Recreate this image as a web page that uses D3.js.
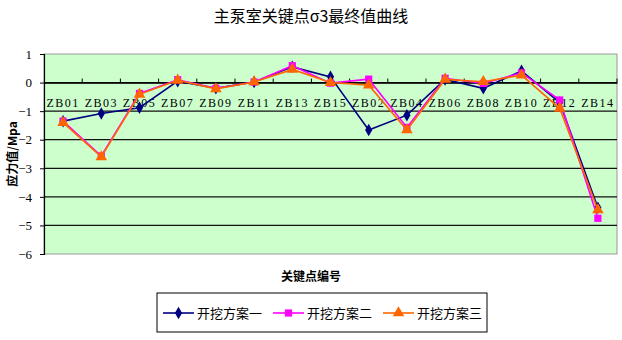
<!DOCTYPE html>
<html>
<head>
<meta charset="utf-8">
<script src="https://cdn.jsdelivr.net/npm/d3@7"></script>
<style>
  body { margin: 0; background: #fff; }
  svg { display: block; }
  .tick text { font-family: "Liberation Serif", serif; }
</style>
</head>
<body>
<svg id="chart" width="622" height="340"></svg>
<script>
const categories = ["ZB01", "ZB03", "ZB05", "ZB07", "ZB09", "ZB11", "ZB13", "ZB15",
    "ZB02", "ZB04", "ZB06", "ZB08", "ZB10", "ZB12", "ZB14"];
const plan1 = [-1.35, -1.08, -0.88, 0.05, -0.2, 0.02, 0.55, 0.2, -1.66, -1.14, 0.11, -0.2, 0.41, -0.7, -4.38];
const plan2 = [-1.35, -2.57, -0.38, 0.1, -0.2, 0.02, 0.59, -0.02, 0.12, -1.57, 0.15, -0.03, 0.34, -0.61, -4.75];
const plan3 = [-1.4, -2.6, -0.41, 0.08, -0.22, 0.02, 0.46, 0.0, -0.09, -1.66, 0.11, 0.03, 0.26, -0.9, -4.46];
const seriesNames = ["开挖方案一", "开挖方案二", "开挖方案三"];
const yTicks = [1, 0, -1, -2, -3, -4, -5, -6];

const svg = d3.select("svg#chart");
const margin = { top: 54, right: 5, bottom: 86, left: 44 };
const chartWidth = 622 - margin.left - margin.right;
const chartHeight = 340 - margin.top - margin.bottom;

const series = [
    { name: seriesNames[0], values: plan1, color: "#000080", shape: d3.symbolDiamond, size: 45 },
    { name: seriesNames[1], values: plan2, color: "#FF00FF", shape: d3.symbolSquare, size: 52 },
    { name: seriesNames[2], values: plan3, color: "#FF6600", shape: d3.symbolTriangle, size: 58 }
];

const xScale = d3.scaleBand().domain(categories).range([0, chartWidth]);
const yScale = d3.scaleLinear().domain([-6, 1]).range([chartHeight, 0]);

// title
svg.append("text")
    .attr("x", 311).attr("y", 22)
    .attr("text-anchor", "middle")
    .attr("font-family", "Noto Sans CJK SC")
    .attr("font-size", 16)
    .text("主泵室关键点σ3最终值曲线");

const chartArea = svg.append("g")
    .attr("transform", `translate(${margin.left},${margin.top})`);

chartArea.append("rect")
    .attr("width", chartWidth).attr("height", chartHeight)
    .attr("fill", "#CCFFCC")
    .attr("stroke", "#999").attr("stroke-width", 1);

// gridlines
chartArea.selectAll("line.grid")
    .data(yTicks.filter(d => d < 1 && d > -6))
    .join("line")
    .attr("class", "grid")
    .attr("x1", 0).attr("x2", chartWidth)
    .attr("y1", d => yScale(d)).attr("y2", d => yScale(d))
    .attr("stroke", "#111").attr("stroke-width", 1.2);

// y axis
let leftAxis = d3.axisLeft(yScale).tickValues(yTicks).tickSize(4).tickPadding(8)
    .tickFormat(d => d < 0 ? "\u2212" + Math.abs(d) : d);
let leftAxisG = chartArea.append("g").call(leftAxis);
leftAxisG.select(".domain").attr("stroke", "#000").attr("stroke-width", 1.2);
leftAxisG.selectAll(".tick text").attr("font-size", 13).attr("fill", "#000");

// category axis at zero
let bottomAxis = d3.axisTop(xScale).tickSizeInner(4).tickSizeOuter(0).tickFormat("");
let axisG = chartArea.append("g")
    .attr("transform", `translate(0,${yScale(0)})`)
    .call(bottomAxis);
axisG.selectAll(".tick").attr("transform", d => `translate(${xScale(d) + xScale.bandwidth()},0)`);
axisG.select(".domain").attr("stroke", "#000").attr("stroke-width", 1.2);

chartArea.selectAll("text.cat")
    .data(categories)
    .join("text")
    .attr("class", "cat")
    .attr("x", d => xScale(d) + xScale.bandwidth() / 2)
    .attr("y", yScale(0) + 24)
    .attr("text-anchor", "middle")
    .attr("font-family", "Liberation Serif, serif")
    .attr("font-size", 12)
    .attr("letter-spacing", 1.5)
    .text(d => d);

// lines and markers
const lineGen = d3.line()
    .x((d, i) => xScale(categories[i]) + xScale.bandwidth() / 2)
    .y(d => yScale(d));

series.forEach(s => {
    chartArea.append("path")
        .datum(s.values)
        .attr("fill", "none")
        .attr("stroke", s.color)
        .attr("stroke-width", 1.6)
        .attr("d", lineGen);
    chartArea.selectAll(null)
        .data(s.values)
        .join("path")
        .attr("transform", (d, i) => `translate(${xScale(categories[i]) + xScale.bandwidth() / 2},${yScale(d)})`)
        .attr("d", d3.symbol().type(s.shape).size(s.size))
        .attr("fill", s.color);
});

// axis titles
svg.append("text")
    .attr("transform", `translate(17,${margin.top + chartHeight / 2}) rotate(-90)`)
    .attr("text-anchor", "middle")
    .attr("font-family", "Noto Sans CJK SC")
    .attr("font-size", 12)
    .attr("font-weight", "bold")
    .text("应力值/Mpa");

svg.append("text")
    .attr("x", 311).attr("y", 281)
    .attr("text-anchor", "middle")
    .attr("font-family", "Noto Sans CJK SC")
    .attr("font-size", 12)
    .attr("font-weight", "bold")
    .text("关键点编号");

// legend
const legend = svg.append("g").attr("transform", "translate(157,293)");
legend.append("rect")
    .attr("width", 330).attr("height", 39)
    .attr("fill", "#fff").attr("stroke", "#000").attr("stroke-width", 1);
series.forEach((s, i) => {
    const g = legend.append("g").attr("transform", `translate(${6 + i * 110},20)`);
    g.append("line").attr("x1", 0).attr("x2", 31).attr("stroke", s.color).attr("stroke-width", 1.6);
    g.append("path").attr("transform", "translate(15.5,0)")
        .attr("d", d3.symbol().type(s.shape).size(s.size)).attr("fill", s.color);
    g.append("text").attr("x", 34).attr("y", 5)
        .attr("font-family", "Noto Sans CJK SC")
        .attr("font-size", 13)
        .text(s.name);
});
</script>
</body>
</html>
